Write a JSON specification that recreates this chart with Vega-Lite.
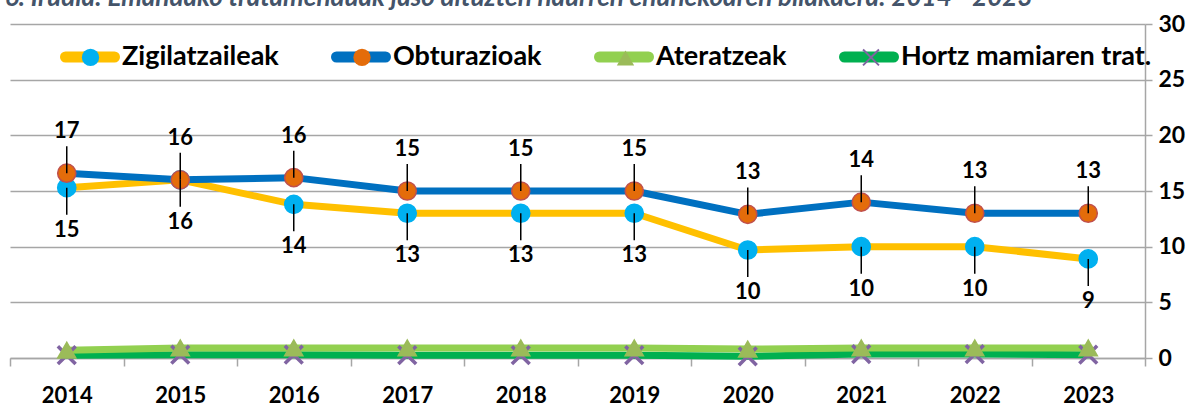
{
  "$schema": "https://vega.github.io/schema/vega-lite/v6.json",
  "width": 1135,
  "height": 334,
  "autosize": {"type": "none"},
  "padding": {"left": 10, "top": 24, "right": 47, "bottom": 48},
  "background": "white",
  "config": {"view": {"stroke": null}, "font": "Lato"},
  "title": {
    "text": "6. Irudia: Emandako tratamenduak jaso dituzten haurren ehunekoaren bilakaera: 2014 - 2023",
    "anchor": "start",
    "frame": "group",
    "font": "Lato",
    "fontSize": 26,
    "fontWeight": "bold",
    "fontStyle": "italic",
    "color": "#44546A",
    "offset": 2,
    "dx": -5
  },
  "data": {
    "values": [
      {"year": "2014", "series": "Hortz mamiaren trat.", "value": 0.25},
      {"year": "2015", "series": "Hortz mamiaren trat.", "value": 0.3},
      {"year": "2016", "series": "Hortz mamiaren trat.", "value": 0.3},
      {"year": "2017", "series": "Hortz mamiaren trat.", "value": 0.25},
      {"year": "2018", "series": "Hortz mamiaren trat.", "value": 0.25},
      {"year": "2019", "series": "Hortz mamiaren trat.", "value": 0.25},
      {"year": "2020", "series": "Hortz mamiaren trat.", "value": 0.15},
      {"year": "2021", "series": "Hortz mamiaren trat.", "value": 0.35},
      {"year": "2022", "series": "Hortz mamiaren trat.", "value": 0.35},
      {"year": "2023", "series": "Hortz mamiaren trat.", "value": 0.3},
      {"year": "2014", "series": "Ateratzeak", "value": 0.7},
      {"year": "2015", "series": "Ateratzeak", "value": 0.9},
      {"year": "2016", "series": "Ateratzeak", "value": 0.9},
      {"year": "2017", "series": "Ateratzeak", "value": 0.9},
      {"year": "2018", "series": "Ateratzeak", "value": 0.9},
      {"year": "2019", "series": "Ateratzeak", "value": 0.9},
      {"year": "2020", "series": "Ateratzeak", "value": 0.8},
      {"year": "2021", "series": "Ateratzeak", "value": 0.9},
      {"year": "2022", "series": "Ateratzeak", "value": 0.9},
      {"year": "2023", "series": "Ateratzeak", "value": 0.9},
      {"year": "2014", "series": "Zigilatzaileak", "value": 15.3},
      {"year": "2015", "series": "Zigilatzaileak", "value": 16.0},
      {"year": "2016", "series": "Zigilatzaileak", "value": 13.8},
      {"year": "2017", "series": "Zigilatzaileak", "value": 13.0},
      {"year": "2018", "series": "Zigilatzaileak", "value": 13.0},
      {"year": "2019", "series": "Zigilatzaileak", "value": 13.0},
      {"year": "2020", "series": "Zigilatzaileak", "value": 9.7},
      {"year": "2021", "series": "Zigilatzaileak", "value": 10.0},
      {"year": "2022", "series": "Zigilatzaileak", "value": 10.0},
      {"year": "2023", "series": "Zigilatzaileak", "value": 8.9},
      {"year": "2014", "series": "Obturazioak", "value": 16.6},
      {"year": "2015", "series": "Obturazioak", "value": 16.0},
      {"year": "2016", "series": "Obturazioak", "value": 16.2},
      {"year": "2017", "series": "Obturazioak", "value": 15.0},
      {"year": "2018", "series": "Obturazioak", "value": 15.0},
      {"year": "2019", "series": "Obturazioak", "value": 15.0},
      {"year": "2020", "series": "Obturazioak", "value": 12.9},
      {"year": "2021", "series": "Obturazioak", "value": 14.0},
      {"year": "2022", "series": "Obturazioak", "value": 13.0},
      {"year": "2023", "series": "Obturazioak", "value": 13.0}
    ]
  },
  "encoding": {
    "x": {
      "field": "year",
      "type": "ordinal",
      "scale": {"paddingInner": 0, "paddingOuter": 0},
      "axis": {
        "orient": "bottom",
        "title": null,
        "tickBand": "extent",
        "domainColor": "#A6A6A6",
        "domainWidth": 1.5,
        "tickColor": "#A6A6A6",
        "tickSize": 8,
        "tickWidth": 1.5,
        "labelFont": "Lato",
        "labelFontSize": 22,
        "labelFontWeight": "bold",
        "labelColor": "black",
        "labelPadding": 19,
        "labelAngle": 0
      }
    },
    "y": {
      "field": "value",
      "type": "quantitative",
      "scale": {"domain": [0, 30], "nice": false},
      "axis": {
        "orient": "right",
        "title": null,
        "values": [0, 5, 10, 15, 20, 25, 30],
        "grid": true,
        "gridColor": "#A6A6A6",
        "gridWidth": 1.5,
        "domainColor": "#A6A6A6",
        "domainWidth": 1.5,
        "tickColor": "#A6A6A6",
        "tickSize": 7,
        "tickWidth": 1.5,
        "labelFont": "Lato",
        "labelFontSize": 23,
        "labelFontWeight": "bold",
        "labelColor": "black",
        "labelPadding": 6
      }
    }
  },
  "layer": [
    {
      "mark": {"type": "line", "strokeJoin": "round", "strokeCap": "round"},
      "encoding": {
        "stroke": {
          "field": "series",
          "type": "nominal",
          "scale": {
            "domain": ["Zigilatzaileak", "Obturazioak", "Ateratzeak", "Hortz mamiaren trat."],
            "range": ["#FFC000", "#0070C0", "#92D050", "#00B050"]
          },
          "legend": {
            "orient": "none",
            "legendX": 50,
            "legendY": 3,
            "direction": "horizontal",
            "title": null,
            "symbolType": "stroke",
            "symbolSize": 2401,
            "symbolStrokeWidth": 11,
            "labelFont": "Lato",
            "labelFontSize": 27,
            "labelFontWeight": "bold",
            "labelColor": "black",
            "labelOffset": 2,
            "labelLimit": 400,
            "columnPadding": 35,
            "zindex": 1,
            "encode": {"symbols": {"update": {"strokeCap": {"value": "round"}}}}
          }
        },
        "strokeWidth": {
          "field": "series",
          "type": "ordinal",
          "scale": {
            "domain": ["Hortz mamiaren trat.", "Ateratzeak", "Obturazioak", "Zigilatzaileak"],
            "range": [7, 7, 12, 12]
          },
          "legend": null
        }
      }
    },
    {
      "mark": {"type": "point", "filled": true, "opacity": 1, "strokeWidth": 1.5},
      "encoding": {
        "fill": {
          "field": "series",
          "type": "nominal",
          "scale": {
            "domain": ["Zigilatzaileak", "Obturazioak", "Ateratzeak", "Hortz mamiaren trat."],
            "range": ["#00B0F0", "#E46C0A", "#9BBB59", "#8064A2"]
          },
          "legend": {
            "orient": "none",
            "legendX": 50,
            "legendY": 2.5,
            "direction": "horizontal",
            "title": null,
            "symbolSize": 300,
            "symbolStrokeWidth": 43,
            "symbolStrokeColor": "transparent",
            "labelFont": "Lato",
            "labelFontSize": 27,
            "labelFontWeight": "bold",
            "labelOpacity": 0,
            "labelOffset": 1,
            "labelLimit": 400,
            "columnPadding": -12.5,
            "zindex": 2,
            "encode": {"symbols": {"update": {"stroke": {"value": "transparent"}, "strokeWidth": {"value": 43}, "opacity": {"value": 1}}}}
          }
        },
        "shape": {
          "field": "series",
          "type": "nominal",
          "scale": {
            "domain": ["Zigilatzaileak", "Obturazioak", "Ateratzeak", "Hortz mamiaren trat."],
            "range": ["circle", "circle", "triangle-up", "M0,-0.16L0.84,-1L1,-0.84L0.16,0L1,0.84L0.84,1L0,0.16L-0.84,1L-1,0.84L-0.16,0L-1,-0.84L-0.84,-1Z"]
          },
          "legend": {
            "orient": "none",
            "legendX": 50,
            "legendY": 2.5,
            "direction": "horizontal",
            "title": null
          }
        },
        "stroke": {
          "field": "series",
          "type": "nominal",
          "scale": {
            "domain": ["Hortz mamiaren trat.", "Ateratzeak", "Obturazioak", "Zigilatzaileak"],
            "range": ["#8064A2", "#9BBB59", "#C0504D", "#00B0F0"]
          },
          "legend": null
        },
        "size": {
          "field": "series",
          "type": "ordinal",
          "scale": {
            "domain": ["Ateratzeak", "Hortz mamiaren trat.", "Zigilatzaileak", "Obturazioak"],
            "range": [330, 330, 530, 530]
          },
          "legend": null
        }
      }
    },
    {
      "transform": [{"filter": {"field": "series", "equal": "Obturazioak"}}],
      "mark": {"type": "rule", "y2Offset": -27, "color": "black", "strokeWidth": 1.5},
      "encoding": {"y2": {"field": "value"}}
    },
    {
      "transform": [{"filter": {"field": "series", "equal": "Zigilatzaileak"}}],
      "mark": {"type": "rule", "y2Offset": 27, "color": "black", "strokeWidth": 1.5},
      "encoding": {"y2": {"field": "value"}}
    },
    {
      "transform": [{"filter": {"field": "series", "equal": "Obturazioak"}}],
      "mark": {"type": "text", "dy": -42, "font": "Lato", "fontSize": 22, "fontWeight": "bold", "color": "black"},
      "encoding": {"text": {"field": "value", "type": "quantitative", "format": ".0f"}}
    },
    {
      "transform": [{"filter": {"field": "series", "equal": "Zigilatzaileak"}}],
      "mark": {"type": "text", "dy": 42, "font": "Lato", "fontSize": 22, "fontWeight": "bold", "color": "black"},
      "encoding": {"text": {"field": "value", "type": "quantitative", "format": ".0f"}}
    }
  ],
  "resolve": {"scale": {"stroke": "independent"}, "legend": {"stroke": "independent"}}
}
